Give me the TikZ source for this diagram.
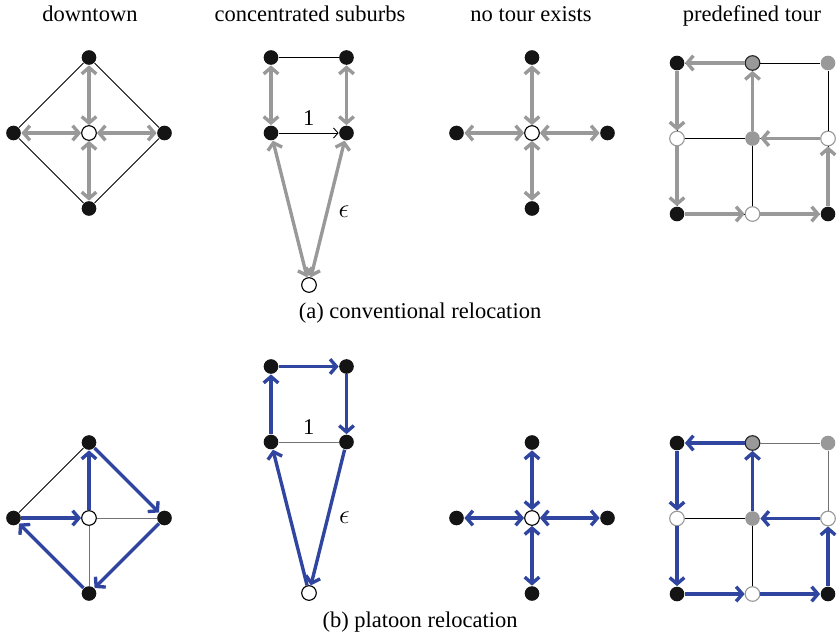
\documentclass[tikz,border=0pt]{standalone}
\usepackage{amsmath}
\usepackage{fontspec}
\setmainfont{Liberation Serif}
\usetikzlibrary{arrows.meta, positioning}

\definecolor{relgray}{RGB}{153,153,153}
\definecolor{platblue}{RGB}{47,69,160}

\tikzset{
  stn/.style={circle, inner sep=0pt, minimum size=6.5pt, line width=0.5pt},
  full/.style={stn, fill=black!92},
  empty/.style={stn, draw=black, fill=white},
  emptyg/.style={stn, draw=relgray, fill=white},
  half/.style={stn, fill=relgray},
  halfb/.style={stn, fill=relgray, draw=black!85},
  road/.style={line width=0.4pt, draw=black},
  roadg/.style={line width=0.4pt, draw=black!55},
  conv/.style={line width=1.5pt, draw=relgray},
  plat/.style={line width=1.5pt, draw=platblue},
  heading/.style={anchor=base, font=\normalsize},
  eps/.style={font=\large, right=1pt},
}

\def\d{75.5}

\begin{document}
\begin{tikzpicture}[x=0.4444pt, y=0.4444pt,
    >={Straight Barb[length=2.8pt, width=6.5pt]}]
  \useasboundingbox (0,0) rectangle (838,638);

  % Headings
  \node[heading] (h1) at (90,617)  {downtown};
  \node[heading] (h2) at (310,617) {concentrated suburbs};
  \node[heading] (h3) at (531,617) {no tour exists};
  \node[heading] (h4) at (752,617) {predefined tour};

  %% (a) conventional relocation
  % downtown
  \begin{scope}[shift={(89,505)}]
    \node[empty] (a1c) at (0,0) {};
    \node[full] (a1n) at (0,\d) {};
    \node[full] (a1w) at (-\d,0) {};
    \node[full] (a1e) at (\d,0) {};
    \node[full] (a1s) at (0,-\d) {};
    \draw[road] (a1w) -- (a1n) -- (a1e) -- (a1s) -- (a1w);
    \foreach \x in {n,w,e,s}
      \draw[conv,<->] (a1c) -- (a1\x);
  \end{scope}

  % concentrated suburbs
  \begin{scope}[shift={(271,505)}]
    \node[full] (a2ml) at (0,0) {};
    \node[full] (a2mr) at (\d,0) {};
    \node[full] (a2tl) at (0,\d) {};
    \node[full] (a2tr) at (\d,\d) {};
    \node[empty] (a2bt) at (38,-152) {};
    \draw[road] (a2tl) -- (a2tr);
    \draw[road, -{Straight Barb[length=2pt, width=4.5pt]}]
      (a2ml) -- node[above] {1} (a2mr);
    \draw[conv,<->] (a2tl) -- (a2ml);
    \draw[conv,<->] (a2tr) -- (a2mr);
    \draw[conv,<->] (a2ml) -- (a2bt);
    \draw[conv,<->] (a2mr) -- node[pos=0.52, eps] {$\epsilon$} (a2bt);
  \end{scope}

  % no tour exists
  \begin{scope}[shift={(532,505)}]
    \node[empty] (a3c) at (0,0) {};
    \node[full] (a3n) at (0,\d) {};
    \node[full] (a3w) at (-\d,0) {};
    \node[full] (a3e) at (\d,0) {};
    \node[full] (a3s) at (0,-\d) {};
    \foreach \x in {n,w,e,s}
      \draw[conv,<->] (a3c) -- (a3\x);
  \end{scope}

  % predefined tour
  \begin{scope}[shift={(677,575)}]
    \foreach \i/\j/\sty in {0/0/full, 1/0/halfb, 2/0/half,
                            0/1/emptyg, 1/1/half, 2/1/emptyg,
                            0/2/full, 1/2/emptyg, 2/2/full}
      \node[\sty] (a4-\i\j) at (\i*\d,-\j*\d) {};
    \foreach \p/\q in {00/10, 10/20, 01/11, 11/21, 02/12, 12/22,
                       00/01, 01/02, 10/11, 11/12, 20/21, 21/22}
      \draw[road] (a4-\p) -- (a4-\q);
    \foreach \p/\q in {10/00, 00/01, 01/02, 02/12, 12/22, 22/21, 21/11, 11/10}
      \draw[conv,->] (a4-\p) -- (a4-\q);
  \end{scope}

  \node (capa) at (420,325) {(a) conventional relocation};

  %% (b) platoon relocation
  % downtown
  \begin{scope}[shift={(89,120)}]
    \node[empty] (b1c) at (0,0) {};
    \node[full] (b1n) at (0,\d) {};
    \node[full] (b1w) at (-\d,0) {};
    \node[full] (b1e) at (\d,0) {};
    \node[full] (b1s) at (0,-\d) {};
    \draw[road] (b1w) -- (b1n);
    \draw[roadg] (b1c) -- (b1e);
    \draw[roadg] (b1c) -- (b1s);
    \foreach \p/\q in {w/c, c/n, n/e, e/s, s/w}
      \draw[plat,->] (b1\p) -- (b1\q);
  \end{scope}

  % concentrated suburbs
  \begin{scope}[shift={(271,196)}]
    \node[full] (b2ml) at (0,0) {};
    \node[full] (b2mr) at (\d,0) {};
    \node[full] (b2tl) at (0,\d) {};
    \node[full] (b2tr) at (\d,\d) {};
    \node[empty] (b2bt) at (38,-151) {};
    \draw[roadg] (b2ml) -- node[above] {1} (b2mr);
    \draw[plat,->] (b2ml) -- (b2tl);
    \draw[plat,->] (b2tl) -- (b2tr);
    \draw[plat,->] (b2tr) -- (b2mr);
    \draw[plat,->] (b2mr) -- node[pos=0.5, eps] {$\epsilon$} (b2bt);
    \draw[plat,->] (b2bt) -- (b2ml);
  \end{scope}

  % no tour exists
  \begin{scope}[shift={(532,120)}]
    \node[empty] (b3c) at (0,0) {};
    \node[full] (b3n) at (0,\d) {};
    \node[full] (b3w) at (-\d,0) {};
    \node[full] (b3e) at (\d,0) {};
    \node[full] (b3s) at (0,-\d) {};
    \foreach \x in {n,w,e,s}
      \draw[plat,<->] (b3c) -- (b3\x);
  \end{scope}

  % predefined tour
  \begin{scope}[shift={(677,195)}]
    \foreach \i/\j/\sty in {0/0/full, 1/0/halfb, 2/0/half,
                            0/1/emptyg, 1/1/half, 2/1/emptyg,
                            0/2/full, 1/2/emptyg, 2/2/full}
      \node[\sty] (b4-\i\j) at (\i*\d,-\j*\d) {};
    \foreach \p/\q in {10/20, 20/21}
      \draw[roadg] (b4-\p) -- (b4-\q);
    \foreach \p/\q in {01/11, 11/12}
      \draw[road] (b4-\p) -- (b4-\q);
    \foreach \p/\q in {10/00, 00/01, 01/02, 02/12, 12/22, 22/21, 21/11, 11/10}
      \draw[plat,->] (b4-\p) -- (b4-\q);
  \end{scope}

  \node (capb) at (420,16) {(b) platoon relocation};
\end{tikzpicture}
\end{document}
